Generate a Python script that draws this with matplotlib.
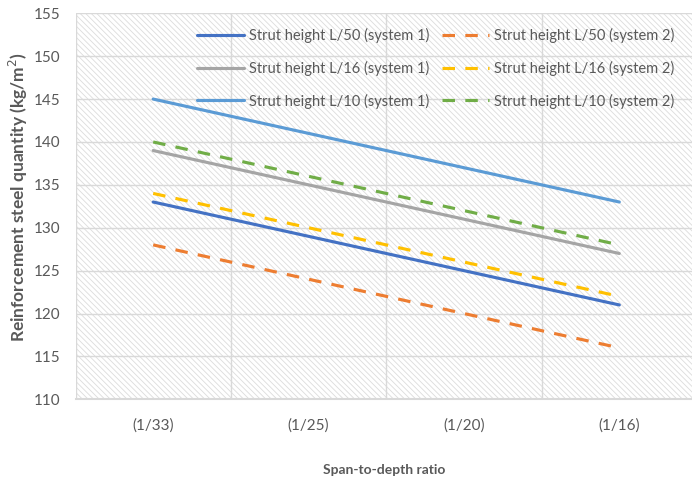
import matplotlib
matplotlib.use("Agg")
import matplotlib.pyplot as plt
from matplotlib.patches import Rectangle

plt.rcParams["font.family"] = ["Lato", "DejaVu Sans"]
plt.rcParams["hatch.linewidth"] = 0.6

categories = ["(1/33)", "(1/25)", "(1/20)", "(1/16)"]
l50_sys1 = [133, 129, 125, 121]
l50_sys2 = [128, 124, 120, 116]
l16_sys1 = [139, 135, 131, 127]
l16_sys2 = [134, 130, 126, 122]
l10_sys1 = [145, 141, 137, 133]
l10_sys2 = [140, 136, 132, 128]
y_ticks = [110, 115, 120, 125, 130, 135, 140, 145, 150, 155]

# Column-major order so the legend shows system 1 on the left, system 2 on the right
series = [
    ("Strut height L/50 (system 1)", l50_sys1, "#4472C4", "-"),
    ("Strut height L/16 (system 1)", l16_sys1, "#A5A5A5", "-"),
    ("Strut height L/10 (system 1)", l10_sys1, "#5B9BD5", "-"),
    ("Strut height L/50 (system 2)", l50_sys2, "#ED7D31", "--"),
    ("Strut height L/16 (system 2)", l16_sys2, "#FFC000", "--"),
    ("Strut height L/10 (system 2)", l10_sys2, "#70AD47", "--"),
]

text_color = "#595959"
grid_color = "#d9d9d9"

fig = plt.figure(figsize=(6.92, 4.84), dpi=100)
ax = fig.add_axes([75.5 / 692, (484 - 399.3) / 484, 621.5 / 692, (399.3 - 13.3) / 484])

# Hatched plot area
bg = Rectangle((0, 0), 1, 1, transform=ax.transAxes, facecolor="white",
               edgecolor="#dcdcdc", hatch="\\\\\\\\\\\\", linewidth=0, zorder=0)
ax.add_patch(bg)
ax.patch.set_visible(False)

x = list(range(len(categories)))
for label, vals, color, ls in series:
    line, = ax.plot(x, vals, color=color, lw=2.25, label=label, zorder=3,
                    solid_capstyle="round", dash_capstyle="butt")
    if ls == "--":
        line.set_dashes((4, 3.3))

ax.set_xlim(-0.5, len(categories) - 0.5)
ax.set_ylim(110, 155)
ax.set_yticks(y_ticks)
ax.set_xticks(x)
ax.set_xticklabels(categories)
ax.set_xticks([i - 0.5 for i in range(len(categories) + 1)], minor=True)

ax.grid(axis="y", which="major", color=grid_color, lw=1.0, zorder=1)
ax.grid(axis="x", which="minor", color=grid_color, lw=1.0, zorder=1)
ax.set_axisbelow(False)

for side in ["top", "right", "left"]:
    ax.spines[side].set_visible(False)
ax.spines["bottom"].set_color(grid_color)
ax.spines["bottom"].set_linewidth(1.5)

ax.tick_params(axis="both", which="both", length=0, labelcolor=text_color, labelsize=11)
ax.tick_params(axis="y", pad=11)
ax.tick_params(axis="x", pad=14)

ax.set_xlabel("Span-to-depth ratio", fontsize=10, fontweight="bold", color=text_color)
ax.set_ylabel("Reinforcement steel quantity (kg/m$^{2}$)", fontsize=12.5, fontweight="bold",
              color=text_color)
ax.xaxis.set_label_coords((384 - 75.5) / 621.5, (399.3 - 470) / 386)
ax.yaxis.set_label_coords((18 - 75.5) / 621.5, (399.3 - 197) / 386)
ax.xaxis.label.set_va("center")
ax.yaxis.label.set_va("center")

leg = ax.legend(ncol=2, loc="upper right", bbox_to_anchor=(0.985, 0.995), frameon=False,
                fontsize=10.5, handlelength=3.2, handletextpad=0.35, columnspacing=0.9,
                labelspacing=1.2, labelcolor=text_color)

fig.savefig("out.png", dpi=100)
